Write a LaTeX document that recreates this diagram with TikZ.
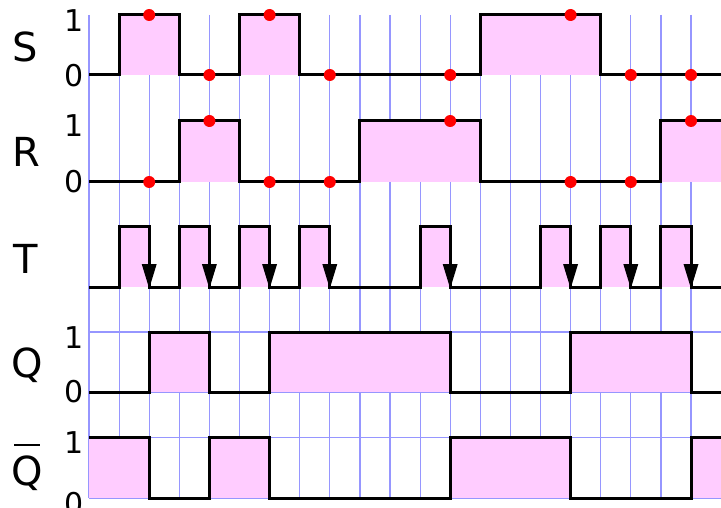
\documentclass[tikz,border=0pt]{standalone}
\usepackage{fontspec}
\setmainfont{DejaVu Sans}
\definecolor{gridc}{RGB}{150,150,255}
\definecolor{pinkf}{RGB}{255,204,255}
\definecolor{dotc}{RGB}{255,0,0}
\begin{document}
\begin{tikzpicture}[x=1pt,y=-1pt,
  gridline/.style={draw=gridc,line width=1.2pt},
  hi/.style={fill=pinkf},
  wave/.style={draw=black,line width=3pt,line join=miter},
  rdot/.style={fill=dotc},
  tiphead/.style={fill=black},
  lbl/.style={font=\fontsize{40}{48}\selectfont,inner sep=0pt,anchor=base},
  dig/.style={font=\fontsize{30}{36}\selectfont,inner sep=0pt,anchor=base}]
\useasboundingbox (0,0) rectangle (721,508);
\begin{scope}[x=30.1pt, xshift=89pt]
  % grid
  \foreach \k in {0,...,20} \draw[gridline] (\k,15) -- (\k,498);
  \foreach \y in {332,392,437.5,498} \draw[gridline] (0,\y) -- (21,\y);
  % fills
  \foreach \a/\b in {1/3,5/7,13/17} \fill[hi] (\a,15) rectangle (\b,75);
  \foreach \a/\b in {3/5,9/13,19/21} \fill[hi] (\a,121) rectangle (\b,182);
  \foreach \a in {1,3,5,7,11,15,17,19} \fill[hi] (\a,227) rectangle (\a+1,287);
  \foreach \a/\b in {2/4,6/12,16/20} \fill[hi] (\a,332) rectangle (\b,392);
  \foreach \a/\b in {0/2,4/6,12/16,20/21} \fill[hi] (\a,437.5) rectangle (\b,498);
  % waveforms
  \draw[wave] (0,75) -- (1,75) -- (1,15) -- (3,15) -- (3,75) -- (5,75) -- (5,15) -- (7,15) -- (7,75) -- (13,75) -- (13,15) -- (17,15) -- (17,75) -- (21,75);
  \draw[wave] (0,182) -- (3,182) -- (3,121) -- (5,121) -- (5,182) -- (9,182) -- (9,121) -- (13,121) -- (13,182) -- (19,182) -- (19,121) -- (21,121);
  \draw[wave] (0,287) -- (1,287) -- (1,227) -- (2,227) -- (2,287) -- (3,287) -- (3,227) -- (4,227) -- (4,287) -- (5,287) -- (5,227) -- (6,227) -- (6,287) -- (7,287) -- (7,227) -- (8,227) -- (8,287) -- (11,287) -- (11,227) -- (12,227) -- (12,287) -- (15,287) -- (15,227) -- (16,227) -- (16,287) -- (17,287) -- (17,227) -- (18,227) -- (18,287) -- (19,287) -- (19,227) -- (20,227) -- (20,287) -- (21,287);
  \draw[wave] (0,392) -- (2,392) -- (2,332) -- (4,332) -- (4,392) -- (6,392) -- (6,332) -- (12,332) -- (12,392) -- (16,392) -- (16,332) -- (20,332) -- (20,392) -- (21,392);
  \draw[wave] (0,437.5) -- (2,437.5) -- (2,498) -- (4,498) -- (4,437.5) -- (6,437.5) -- (6,498) -- (12,498) -- (12,437.5) -- (16,437.5) -- (16,498) -- (20,498) -- (20,437.5) -- (21,437.5);
  % arrow heads on falling clock edges
  \foreach \k in {2,4,6,8,12,16,18,20}
    \fill[tiphead] (\k,264) ++(-7.5pt,0) -- ++(15pt,0) -- (\k,288.5) -- cycle;
  % sampling dots
  \foreach \k/\y in {2/15,4/75,6/15,8/75,12/75,16/15,18/75,20/75}
    \fill[rdot] (\k,\y) circle[radius=6pt];
  \foreach \k/\y in {2/182,4/121,6/182,8/182,12/121,16/182,18/182,20/121}
    \fill[rdot] (\k,\y) circle[radius=6pt];
\end{scope}
% signal names
\node[lbl] (lS) at (25.5,62) {S};
\node[lbl] (lR) at (26.5,167) {R};
\node[lbl] (lT) at (26,273) {T};
\node[lbl] (lQ) at (27,377) {Q};
\node[lbl] (lQb) at (27,485) {\ooalign{Q\cr\hidewidth\raisebox{39pt}{\rule{26pt}{2pt}}\hidewidth\cr}};
% level digits
\node[dig] (s1) at (74,32) {1};
\node[dig] (s0) at (74,87) {0};
\node[dig] (r1) at (74,137) {1};
\node[dig] (r0) at (74,193) {0};
\node[dig] (q1) at (74,348) {1};
\node[dig] (q0) at (74,402.5) {0};
\node[dig] (qb1) at (74,453.5) {1};
\node[dig] (qb0) at (74,514) {0};
\end{tikzpicture}
\end{document}
